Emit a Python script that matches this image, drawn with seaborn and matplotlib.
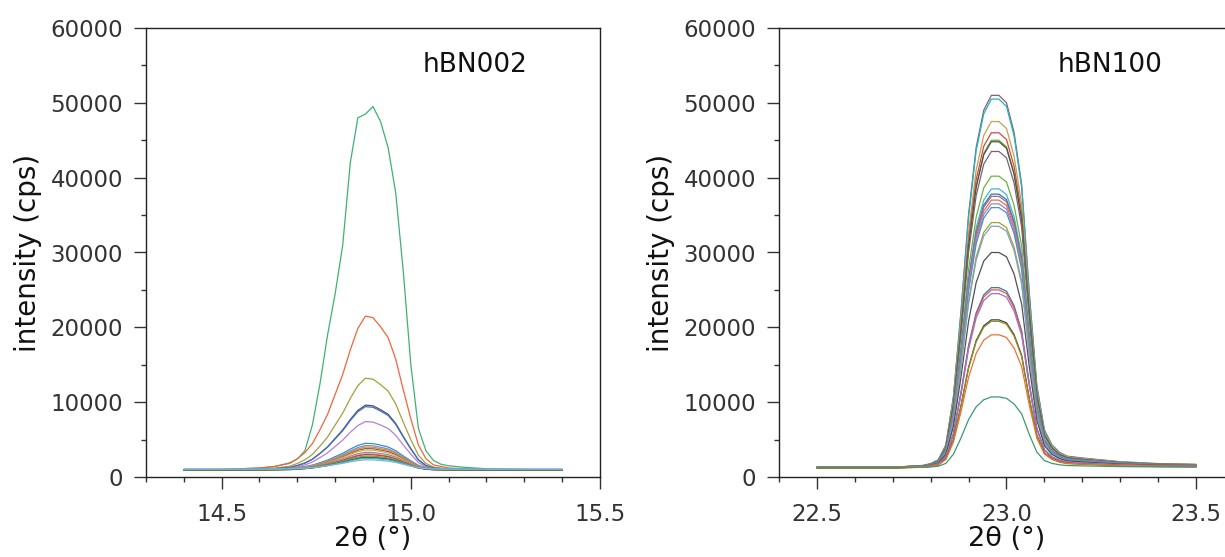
import numpy as np
import pandas as pd
import matplotlib
matplotlib.use("Agg")
import matplotlib.pyplot as plt
import seaborn as sns

sns.set_theme(style="ticks")
plt.rcParams['font.family'] = ['DejaVu Sans']

# ---- hBN002 (left panel) ----
x002 = [14.40, 14.50, 14.60, 14.64, 14.68, 14.70, 14.72, 14.74, 14.76, 14.78,
        14.80, 14.82, 14.84, 14.86, 14.88, 14.90, 14.92, 14.94, 14.96, 14.98,
        15.00, 15.02, 15.04, 15.06, 15.08, 15.10, 15.14, 15.20, 15.30, 15.40]
# strongest curve, read point by point
top002 = [1000, 1000, 1200, 1400, 1900, 2400, 3500, 7000, 12500, 19000,
          24500, 31000, 42000, 48000, 48500, 49500, 47500, 44000, 38000, 27500,
          15000, 6500, 3500, 2200, 1700, 1500, 1300, 1100, 1000, 900]
# normalised peak shape of the weaker curves
shape002 = [0.0, 0.0, 0.01, 0.02, 0.04, 0.07, 0.11, 0.17, 0.26, 0.36,
            0.49, 0.62, 0.78, 0.92, 1.0, 0.99, 0.93, 0.86, 0.72, 0.52,
            0.33, 0.16, 0.07, 0.03, 0.02, 0.01, 0.005, 0.0, 0.0, 0.0]
peaks002 = [21500, 13200, 9600, 9400, 7400, 4500, 4200, 4000, 3800, 3600,
            3300, 3100, 3000, 2800, 2700, 2600, 2500, 2300]
base002 = [1000, 950, 900, 950, 900, 1000, 950, 1000, 900, 950,
           1000, 900, 950, 1000, 900, 950, 1000, 1050]
colors002 = ["#3cb371", "#f0653a", "#a4a03c", "#505060", "#4472c4", "#b57edc",
             "#4a86d0", "#5b9bd5", "#e8862a", "#8c6040", "#d2b060", "#909090",
             "#e080c0", "#d04040", "#60a040", "#a0a030", "#404040", "#30c0c8",
             "#80b0e0"]

# ---- hBN100 (right panel) ----
x100 = [22.50, 22.60, 22.70, 22.78, 22.80, 22.82, 22.84, 22.86, 22.88, 22.90,
        22.92, 22.94, 22.96, 22.98, 23.00, 23.02, 23.04, 23.06, 23.08, 23.10,
        23.12, 23.14, 23.16, 23.20, 23.25, 23.30, 23.40, 23.50]
shape100 = [0.0, 0.0, 0.0, 0.005, 0.01, 0.02, 0.06, 0.19, 0.42, 0.68,
            0.86, 0.96, 1.0, 1.0, 0.98, 0.90, 0.76, 0.47, 0.22, 0.10,
            0.06, 0.04, 0.03, 0.025, 0.02, 0.015, 0.01, 0.008]
peaks100 = [51000, 50500, 47500, 46000, 45000, 44800, 43500, 40200, 38500, 37800,
            37500, 37000, 36500, 36000, 34000, 33500, 30000, 25300, 25000, 24500,
            21000, 20800, 19000, 10700]
base100 = [1300, 1250, 1300, 1200, 1300, 1250, 1300, 1200, 1300, 1250,
           1300, 1200, 1250, 1300, 1200, 1250, 1300, 1250, 1200, 1300,
           1250, 1200, 1300, 1250]
colors100 = ["#8a6068", "#22b4c4", "#c8a050", "#d24848", "#78a830", "#505050",
             "#806070", "#70b040", "#40b8c8", "#3070c0", "#9a7080", "#e07050",
             "#a080d0", "#5090d0", "#a0a030", "#80a0c0", "#505050", "#3a70c8",
             "#e06030", "#a070d0", "#404040", "#909020", "#f07030", "#3a9a70"]

rows = []
for i, (p, b) in enumerate(zip(peaks002, base002)):
    for xv, s in zip(x002, shape002):
        rows.append(("hBN002", i + 1, xv, b + (p - b) * s))
for xv, yv in zip(x002, top002):
    rows.append(("hBN002", 0, xv, yv))
for i, (p, b) in enumerate(zip(peaks100, base100)):
    for xv, s in zip(x100, shape100):
        rows.append(("hBN100", i, xv, b + (p - b) * s))
df = pd.DataFrame(rows, columns=["peak", "curve", "two_theta", "intensity"])

fig = plt.figure(figsize=(12.25, 5.57), dpi=100)
ax1 = fig.add_axes([146 / 1225, 80 / 557, 454 / 1225, 449 / 557])
# right panel runs past the image edge (its right spine is cut off)
ax2 = fig.add_axes([779 / 1225, 80 / 557, 455 / 1225, 449 / 557])

panels = [
    (ax1, "hBN002", colors002, (14.3, 15.5), np.arange(14.3, 15.51, 0.1), [14.5, 15.0, 15.5], 0.725),
    (ax2, "hBN100", colors100, (22.4, 23.6), np.arange(22.4, 23.61, 0.1), [22.5, 23.0, 23.5], 0.727),
]
for ax, name, cols, xlim, minor, major, tx in panels:
    d = df[df["peak"] == name]
    sns.lineplot(data=d, x="two_theta", y="intensity", hue="curve",
                 palette=cols[:d["curve"].nunique()], estimator=None,
                 linewidth=0.9, legend=False, ax=ax)
    ax.set_xlim(*xlim)
    ax.set_ylim(0, 60000)
    ax.set_xticks(major)
    ax.set_xticklabels(["%.1f" % v for v in major])
    ax.set_xticks(minor, minor=True)
    ax.set_yticks(range(0, 60001, 10000))
    ax.set_yticks(range(5000, 60000, 10000), minor=True)
    ax.tick_params(axis="x", which="major", length=8.5, width=1.0, colors="#333333",
                   labelsize=16.5, pad=10)
    ax.tick_params(axis="x", which="minor", length=3.8, width=1.0, colors="#333333")
    ax.tick_params(axis="y", which="major", length=8.5, width=1.0, colors="#333333",
                   labelsize=16.5, pad=8)
    ax.tick_params(axis="y", which="minor", length=3.8, width=1.0, colors="#333333")
    for sp in ax.spines.values():
        sp.set_visible(True)
        sp.set_linewidth(1.0)
        sp.set_color("#222222")
    ax.set_xlabel("2θ (°)", fontsize=19.5, color="#111111", labelpad=0.5)
    ax.set_ylabel("intensity (cps)", fontsize=20, color="#111111", labelpad=6)
    ax.text(tx, 0.918, name, transform=ax.transAxes, ha="center", va="center",
            fontsize=19, color="#111111")

fig.savefig("out.png", dpi=100)
